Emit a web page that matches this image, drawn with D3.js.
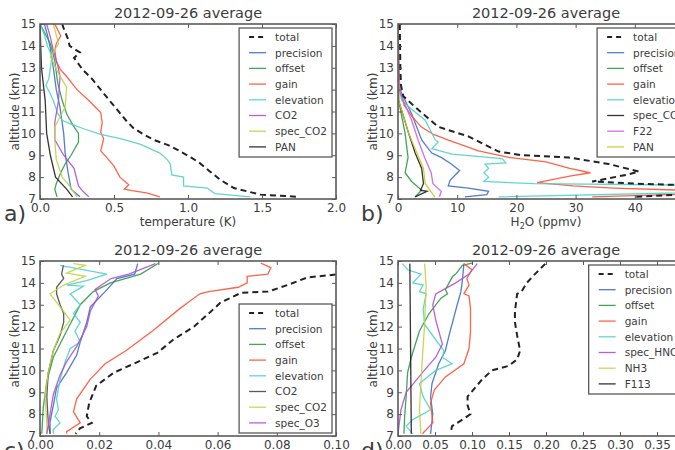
<!DOCTYPE html>
<html>
<head>
<meta charset="utf-8">
<script src="https://cdn.jsdelivr.net/npm/d3@7"></script>
<style>
  body { margin: 0; background: #fff; }
  svg { display: block; font-family: "DejaVu Sans", sans-serif; }
</style>
</head>
<body>
<svg id="chart" width="675" height="450"></svg>
<script>
// every series is a list of [value, altitude in km]
const altTicks = [7, 8, 9, 10, 11, 12, 13, 14, 15];
const titleText = "2012-09-26 average";

// a) temperature (K)
const aTicks = [0.0, 0.5, 1.0, 1.5, 2.0];
const a_total = [[0.15,15],[0.16,14.8],[0.19,14.3],[0.20,14.0],[0.27,13.7],[0.23,13.45],[0.29,12.9],[0.35,12.5],[0.41,12.0],[0.47,11.5],[0.52,11.1],[0.58,10.6],[0.63,10.25],[0.70,9.95],[0.77,9.7],[0.87,9.45],[0.95,9.17],[1.02,8.9],[1.08,8.64],[1.15,8.25],[1.22,7.87],[1.31,7.5],[1.49,7.2],[1.75,7.1]];
const a_precision = [[0.03,15],[0.05,14.5],[0.07,13.9],[0.09,13.0],[0.11,12.0],[0.135,11.2],[0.16,10.0],[0.17,9.1],[0.19,8.2],[0.21,7.45],[0.27,7.1]];
const a_offset = [[0.00,15],[0.04,14.5],[0.07,14.1],[0.10,13.3],[0.12,12.3],[0.15,11.5],[0.18,10.9],[0.22,10.4],[0.26,10.0],[0.26,9.6],[0.21,9.0],[0.17,8.6],[0.14,8.2],[0.11,7.7],[0.10,7.45],[0.115,7.1]];
const a_gain = [[0.10,15],[0.14,14.45],[0.11,14.1],[0.10,13.8],[0.11,13.3],[0.14,12.9],[0.18,12.6],[0.25,12.0],[0.33,11.5],[0.41,10.95],[0.42,10.5],[0.41,10.05],[0.43,9.75],[0.41,9.2],[0.45,8.9],[0.50,8.5],[0.54,8.0],[0.60,7.65],[0.57,7.45],[0.62,7.38],[0.72,7.28],[0.81,7.1]];
const a_elevation = [[0.00,15],[0.03,14.5],[0.05,14.0],[0.08,13.5],[0.07,13.0],[0.06,12.5],[0.04,12.2],[0.07,11.8],[0.09,11.5],[0.12,10.9],[0.15,10.6],[0.20,10.45],[0.30,10.2],[0.41,9.95],[0.55,9.75],[0.68,9.5],[0.81,9.1],[0.86,8.8],[0.88,8.6],[0.89,8.1],[0.97,8.0],[0.97,7.6],[1.13,7.5],[1.18,7.25],[1.42,7.1]];
const a_co2 = [[0.045,15],[0.07,14.4],[0.09,13.8],[0.12,13.1],[0.135,12.6],[0.125,11.5],[0.10,10.5],[0.10,9.7],[0.16,9.0],[0.23,8.4],[0.26,7.6],[0.29,7.35],[0.33,7.1]];
const a_specco2 = [[0.09,15],[0.125,14.1],[0.07,13.5],[0.12,12.8],[0.18,12.1],[0.17,11.2],[0.10,10.3],[0.10,9.7],[0.11,8.8],[0.15,8.0],[0.20,7.6],[0.25,7.1]];
const a_pan = [[0.00,15],[0.01,13.0],[0.035,11.5],[0.045,10.0],[0.07,9.0],[0.105,8.0],[0.18,7.45],[0.22,7.1]];

// b) H2O (ppmv)
const bTicks = [0, 10, 20, 30, 40, 50];
const b_total = [[0.3,15],[0.4,13],[0.5,12.2],[0.9,11.7],[2.9,11.2],[6.8,10.3],[11.9,9.86],[17,9.17],[21,9.0],[28.8,8.9],[35.6,8.6],[40.7,8.25],[38.5,8.1],[32.8,7.8],[40.2,7.7],[52,7.6],[56,7.3],[40,7.1]];
const b_precision = [[0,15],[0.1,13],[0.3,12],[2.3,10.9],[4.0,9.7],[5.7,9.1],[7.3,8.9],[9.0,8.6],[10.4,8.3],[8.8,7.85],[8.5,7.6],[11.9,7.5],[15.3,7.35],[15,7.2],[11.3,7.1]];
const b_offset = [[0,15],[0.1,11.5],[1.2,10.0],[1.7,8.9],[1.2,8.2],[2.3,7.8],[4.0,7.4],[2.9,7.1]];
const b_gain = [[0,15],[0.1,13],[0.3,12],[1.0,11.3],[2.3,10.8],[3.9,10.3],[6,9.95],[8.4,9.7],[13.6,9.2],[18.7,8.9],[25,8.7],[29,8.4],[32.5,8.2],[29,8.05],[23.5,7.75],[29.6,7.6],[36.5,7.5],[48,7.4],[58,7.3],[32.8,7.1]];
const b_elevation = [[0,15],[0.1,13],[0.3,12],[0.6,11.5],[2.3,11.1],[4.6,10.6],[6.3,9.7],[6.8,9.6],[5.7,9.3],[9.1,9.05],[17.6,8.85],[18.2,8.65],[14.7,8.6],[15.3,8.4],[14.5,8.2],[15.3,8.0],[14.5,7.8],[23,7.7],[55,7.62],[60,7.35],[17,7.1]];
const b_specco2 = [[0,15],[0.1,11.5],[1.8,10.0],[2.9,9.1],[4.0,8.4],[4.3,7.7],[3.8,7.4],[4.9,7.35],[2.9,7.1]];
const b_f22 = [[0,15],[0.3,11.9],[2.3,10.6],[3.4,9.7],[4.5,8.9],[5.6,8.2],[5.9,7.7],[7.3,7.35],[7,7.1]];
const b_pan = [[0,15],[0.1,11.5],[1.8,10.0],[3.2,9.1],[4.3,8.4],[4.6,7.7],[5.4,7.4],[6.2,7.1]];

// c)
const cTicks = [0.00, 0.02, 0.04, 0.06, 0.08, 0.10];
const c_total = [[0.11,14.45],[0.1,14.38],[0.0904,14.25],[0.0836,13.9],[0.077,13.6],[0.068,13.55],[0.061,13.1],[0.057,12.6],[0.052,12.0],[0.045,11.4],[0.0396,10.8],[0.0316,10.3],[0.025,9.9],[0.019,9.3],[0.0166,8.5],[0.0158,7.9],[0.0175,7.6],[0.0135,7.35],[0.012,7.1]];
const c_precision = [[0.033,14.88],[0.032,14.4],[0.026,14.2],[0.022,13.6],[0.017,12.9],[0.0158,12.2],[0.0136,11.3],[0.0124,10.7],[0.009,9.9],[0.0056,9.2],[0.0045,8.4],[0.0034,7.65],[0.0034,7.1]];
const c_offset = [[0.040,14.9],[0.034,14.4],[0.0238,14.0],[0.018,13.6],[0.0136,13.0],[0.009,11.8],[0.0045,10.6],[0.0023,9.5],[0.0011,8.3],[0.0006,7.1]];
const c_gain = [[0.0746,14.9],[0.078,14.7],[0.077,14.4],[0.070,14.3],[0.070,14.0],[0.067,13.8],[0.057,13.6],[0.054,13.5],[0.050,13.1],[0.047,12.8],[0.038,11.8],[0.029,10.9],[0.022,10.3],[0.017,9.6],[0.0124,8.7],[0.0113,8.1],[0.0136,7.6],[0.009,7.2],[0.009,7.1]];
const c_elevation = [[0.0068,14.8],[0.0226,14.4],[0.0158,14.1],[0.009,13.9],[0.0147,13.85],[0.0102,13.5],[0.0136,13.0],[0.0113,12.6],[0.0136,12.2],[0.0118,11.8],[0.0136,11.3],[0.0102,11.0],[0.0085,10.4],[0.0068,9.6],[0.0056,8.7],[0.0062,8.2],[0.0051,7.9],[0.0068,7.6],[0.0045,7.3],[0.0045,7.1]];
const c_co2 = [[0.0079,14.8],[0.0073,14.4],[0.008,14.2],[0.0056,13.8],[0.0056,13.5],[0.0068,13.0],[0.008,12.6],[0.008,12.2],[0.0068,11.6],[0.0045,10.9],[0.0028,9.9],[0.0023,8.8],[0.0028,7.6],[0.0034,7.1]];
const c_specco2 = [[0.0113,14.88],[0.0153,14.8],[0.009,14.45],[0.0153,14.3],[0.008,13.9],[0.0034,13.5],[0.0045,13.3],[0.0068,12.9],[0.0102,12.3],[0.0068,11.7],[0.0045,10.9],[0.0028,9.9],[0.0017,8.8],[0.0023,7.6],[0.0023,7.1]];
const c_speco3 = [[0.039,14.88],[0.030,14.4],[0.024,14.2],[0.0186,13.7],[0.0197,13.4],[0.017,12.7],[0.0158,12.0],[0.0124,11.1],[0.009,10.4],[0.0068,9.8],[0.0045,8.9],[0.0034,8.0],[0.0023,7.1]];

// d)
const dTicks = [0.00, 0.05, 0.10, 0.15, 0.20, 0.25, 0.30, 0.35, 0.40];
const d_total = [[0.199,14.87],[0.185,14.4],[0.174,14.0],[0.167,13.6],[0.161,13.5],[0.158,12.7],[0.158,12.2],[0.161,11.6],[0.165,10.9],[0.161,10.5],[0.149,10.2],[0.127,10.0],[0.114,9.6],[0.094,8.8],[0.094,8.4],[0.098,8.0],[0.087,7.75],[0.073,7.45],[0.071,7.1]];
const d_precision = [[0.089,14.88],[0.087,14.1],[0.085,13.6],[0.080,13.0],[0.069,11.6],[0.064,10.9],[0.055,10.3],[0.046,9.4],[0.044,8.8],[0.047,8.0],[0.044,7.1]];
const d_offset = [[0.100,14.9],[0.087,14.8],[0.078,14.4],[0.074,14.3],[0.064,13.7],[0.067,13.5],[0.058,13.3],[0.042,12.6],[0.029,11.8],[0.018,10.6],[0.013,9.9],[0.011,8.8],[0.009,7.9],[0.008,7.1]];
const d_gain = [[0.089,14.88],[0.100,14.6],[0.093,14.2],[0.096,13.9],[0.089,13.5],[0.096,13.4],[0.098,12.8],[0.098,11.8],[0.096,11.0],[0.089,10.3],[0.064,9.7],[0.049,9.1],[0.044,8.5],[0.047,7.6],[0.033,7.1]];
const d_elevation = [[0.006,14.88],[0.013,14.6],[0.031,14.4],[0.020,14.0],[0.034,13.9],[0.029,13.6],[0.038,13.5],[0.034,12.8],[0.036,12.1],[0.051,11.4],[0.062,10.9],[0.060,10.6],[0.073,10.3],[0.051,10.0],[0.029,9.4],[0.034,8.8],[0.044,8.2],[0.020,7.75],[0.011,7.45],[0.020,7.1]];
const d_spechno3 = [[0.107,14.88],[0.096,14.4],[0.078,14.0],[0.051,13.5],[0.047,13.0],[0.051,12.3],[0.060,11.2],[0.051,10.6],[0.033,9.9],[0.011,9.0],[0.004,8.2],[0.000,7.1]];
const d_nh3 = [[0.036,14.88],[0.038,13.9],[0.036,12.1],[0.033,10.6],[0.031,9.4],[0.029,8.2],[0.031,7.1]];
const d_f113 = [[0.016,14.88],[0.018,7.1]];

const col = {
  blue: "#3d6fc6", green: "#2f9a48", red: "#ff5236", cyan: "#52d0cb",
  purple: "#b24fd2", olive: "#c3d045", black: "#1e1e1e", grey: "#4a4a4a",
  magenta: "#d25fd6", yellow: "#c8c82c"
};

const panels = [
  { letter: "a)", left: 40, top: 24, xMax: 2.0, ticks: aTicks, fmt: ".1f", xlabel: "temperature (K)", legend: "top", lw: null,
    series: [["total", a_total, col.black], ["precision", a_precision, col.blue], ["offset", a_offset, col.green], ["gain", a_gain, col.red],
             ["elevation", a_elevation, col.cyan], ["CO2", a_co2, col.purple], ["spec_CO2", a_specco2, col.olive], ["PAN", a_pan, col.black]] },
  { letter: "b)", left: 398, top: 24, xMax: 50, ticks: bTicks, fmt: "d", xlabel: "h2o", legend: "top",
    series: [["total", b_total, col.black], ["precision", b_precision, col.blue], ["offset", b_offset, col.green], ["gain", b_gain, col.red],
             ["elevation", b_elevation, col.cyan], ["spec_CO2", b_specco2, col.black], ["F22", b_f22, col.magenta], ["PAN", b_pan, col.yellow]] },
  { letter: "c)", left: 40, top: 261, xMax: 0.10, ticks: cTicks, fmt: ".2f", xlabel: null, legend: "bottom",
    series: [["total", c_total, col.black], ["precision", c_precision, col.blue], ["offset", c_offset, col.green], ["gain", c_gain, col.red],
             ["elevation", c_elevation, col.cyan], ["CO2", c_co2, col.grey], ["spec_CO2", c_specco2, col.olive], ["spec_O3", c_speco3, col.purple]] },
  { letter: "d)", left: 398, top: 261, xMax: 0.40, ticks: dTicks, fmt: ".2f", xlabel: null, legend: "top",
    series: [["total", d_total, col.black], ["precision", d_precision, col.blue], ["offset", d_offset, col.green], ["gain", d_gain, col.red],
             ["elevation", d_elevation, col.cyan], ["spec_HNO3", d_spechno3, col.purple], ["NH3", d_nh3, col.olive], ["F113", d_f113, col.black]] }
];

const pw = 296, ph = 175;
const textCol = "#3c3c3c", spineCol = "#5a5a5a";
const svg = d3.select("#chart");

panels.forEach((p, i) => {
  const g = svg.append("g").attr("transform", `translate(${p.left},${p.top})`);
  const x = d3.scaleLinear().domain([0, p.xMax]).range([0, pw]);
  const y = d3.scaleLinear().domain([7, 15]).range([ph, 0]);

  const clipId = "clip" + i;
  g.append("clipPath").attr("id", clipId).append("rect").attr("width", pw).attr("height", ph);

  const line = d3.line().x(d => x(d[0])).y(d => y(d[1]));
  const lines = g.append("g").attr("clip-path", `url(#${clipId})`);
  // draw total last so dashes sit on top, like the original
  p.series.slice(1).forEach(s => {
    lines.append("path").datum(s[1]).attr("d", line)
      .attr("fill", "none").attr("stroke", s[2]).attr("stroke-width", 1.3).attr("stroke-opacity", 0.9);
  });
  lines.append("path").datum(p.series[0][1]).attr("d", line)
    .attr("fill", "none").attr("stroke", "#222").attr("stroke-width", 2).attr("stroke-dasharray", "6,4");

  // axes, ticks inside on all four sides
  const styleAxis = sel => {
    sel.select(".domain").remove();
    sel.selectAll(".tick line").attr("stroke", spineCol).attr("stroke-width", 1);
    sel.selectAll(".tick text").attr("fill", textCol).attr("font-size", 12).attr("font-family", "DejaVu Sans");
  };
  g.append("g").attr("transform", `translate(0,${ph})`)
    .call(d3.axisBottom(x).tickValues(p.ticks).tickFormat(d3.format(p.fmt)).tickSizeInner(-4).tickSizeOuter(0).tickPadding(4))
    .call(styleAxis);
  g.append("g")
    .call(d3.axisTop(x).tickValues(p.ticks).tickFormat("").tickSizeInner(-4).tickSizeOuter(0))
    .call(styleAxis);
  g.append("g")
    .call(d3.axisLeft(y).tickValues(altTicks).tickFormat(d3.format("d")).tickSizeInner(-4).tickSizeOuter(0).tickPadding(4))
    .call(styleAxis);
  g.append("g").attr("transform", `translate(${pw},0)`)
    .call(d3.axisRight(y).tickValues(altTicks).tickFormat("").tickSizeInner(-4).tickSizeOuter(0))
    .call(styleAxis);

  g.append("rect").attr("width", pw).attr("height", ph)
    .attr("fill", "none").attr("stroke", spineCol).attr("stroke-width", 1.6);

  // title and labels
  g.append("text").attr("x", pw / 2).attr("y", -6).attr("text-anchor", "middle")
    .attr("font-size", 14.5).attr("fill", textCol).text(titleText);
  g.append("text").attr("transform", `translate(-21,${ph / 2}) rotate(-90)`).attr("text-anchor", "middle")
    .attr("font-size", 12).attr("fill", textCol).text("altitude (km)");
  if (p.xlabel === "h2o") {
    const t = g.append("text").attr("x", pw / 2).attr("y", ph + 27).attr("text-anchor", "middle")
      .attr("font-size", 12).attr("fill", textCol);
    t.append("tspan").text("H");
    t.append("tspan").attr("font-size", 8).attr("dy", 3).text("2");
    t.append("tspan").attr("dy", -3).text("O (ppmv)");
  } else if (p.xlabel) {
    g.append("text").attr("x", pw / 2).attr("y", ph + 27).attr("text-anchor", "middle")
      .attr("font-size", 12).attr("fill", textCol).text(p.xlabel);
  }
  g.append("text").attr("x", p.left === 40 ? -36 : -37).attr("y", ph + 22)
    .attr("font-size", 22).attr("fill", textCol).text(p.letter);

  // legend
  const rowH = 15.7;
  const leg = g.append("g");
  const box = leg.append("rect").attr("fill", "#fff").attr("stroke", spineCol).attr("stroke-width", 1.3);
  let maxW = 0;
  p.series.forEach((s, k) => {
    const cy = 9 + k * rowH;
    leg.append("line").attr("x1", 10).attr("x2", 27).attr("y1", cy).attr("y2", cy)
      .attr("stroke", k === 0 ? "#222" : s[2]).attr("stroke-width", k === 0 ? 2 : 1.3)
      .attr("stroke-dasharray", k === 0 ? "5,4" : null).attr("stroke-opacity", k === 0 ? 1 : 0.9);
    const t = leg.append("text").attr("x", 36).attr("y", cy + 3.8)
      .attr("font-size", 10.5).attr("fill", textCol).text(s[0]);
    maxW = Math.max(maxW, t.node().getComputedTextLength());
  });
  const lw = 36 + maxW + 5, lh = 129;
  box.attr("width", lw).attr("height", lh);
  const lx = pw - 4 - lw;
  const ly = p.legend === "top" ? 4 : ph - 3 - lh;
  leg.attr("transform", `translate(${lx},${ly})`);
});
</script>
</body>
</html>
